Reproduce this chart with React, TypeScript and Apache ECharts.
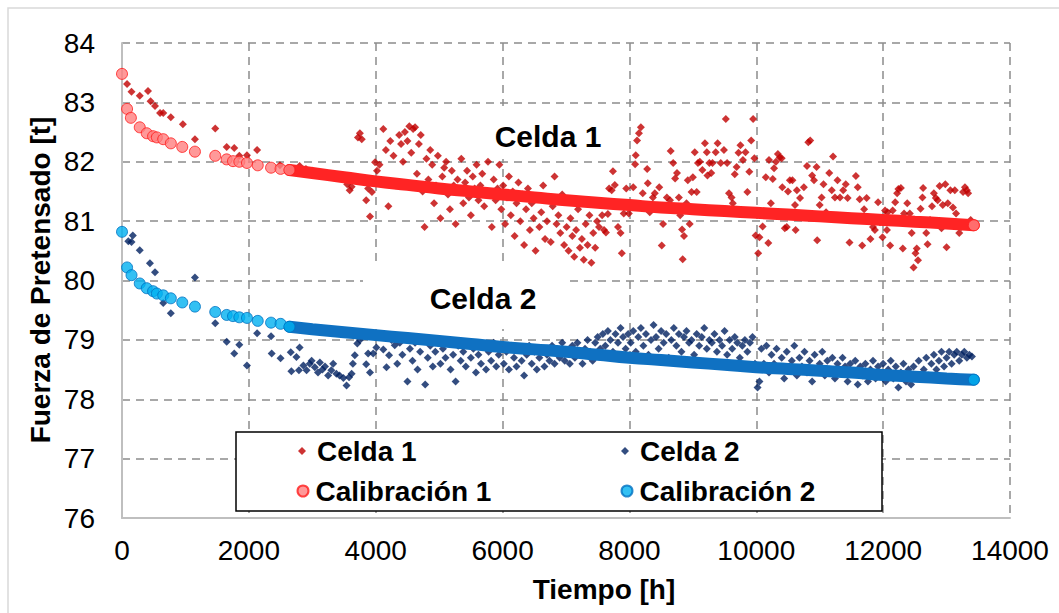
import React, { useEffect, useRef } from "react";
import * as echarts from "echarts";

// ---- Data ----
const xTicks = [0, 2000, 4000, 6000, 8000, 10000, 12000, 14000];
const yTicks = [76, 77, 78, 79, 80, 81, 82, 83, 84];

const celda1: [number, number][] = [
  [80, 83.31], [150, 83.18], [280, 83.11], [410, 83.19], [450, 83.02], [520, 82.94], [600, 82.82], [650, 82.82],
  [770, 82.75], [960, 82.63], [1150, 82.38], [1470, 82.56], [1650, 82.25], [1770, 82.23], [1850, 82.1], [1970, 82.11],
  [2130, 82.2], [2490, 81.94], [2800, 81.93], [2900, 81.88], [3000, 81.85], [3100, 81.8], [3200, 81.78], [3300, 81.76],
  [3400, 81.73], [3480, 81.74], [3550, 81.62], [3590, 81.52], [3620, 81.58], [3660, 81.7], [3720, 82.41], [3750, 82.48],
  [3780, 82.38], [3850, 81.35], [3880, 81.55], [3910, 81.08], [3940, 81.49], [3990, 81.99],
  [4020, 81.85], [4060, 81.95], [4120, 82.55], [4160, 82.2], [4200, 81.25], [4230, 82.35], [4280, 82.1], [4320, 81.6],
  [4370, 82.45], [4400, 82.3], [4430, 82.0], [4460, 82.5], [4500, 82.35], [4530, 82.6], [4560, 82.15], [4590, 82.55],
  [4620, 82.58], [4650, 81.8], [4680, 82.3], [4710, 82.45], [4740, 81.5], [4770, 80.9], [4800, 82.05], [4830, 81.7],
  [4860, 82.2], [4890, 81.95], [4920, 81.3], [4950, 81.6], [4980, 82.1],
  [5020, 81.05], [5050, 81.75], [5080, 81.9], [5110, 82.0], [5140, 81.45], [5170, 81.2], [5200, 81.85], [5230, 81.6],
  [5260, 80.95], [5290, 81.7], [5320, 81.5], [5350, 82.05], [5380, 81.3], [5410, 81.65], [5440, 81.85], [5470, 81.4],
  [5500, 81.1], [5530, 81.75], [5560, 81.55], [5590, 81.95], [5620, 81.35], [5650, 81.6], [5680, 81.8], [5710, 81.25],
  [5740, 81.5], [5770, 82.0], [5800, 81.45], [5830, 80.9], [5860, 81.7], [5890, 81.35], [5920, 81.55], [5950, 81.95],
  [5980, 81.2],
  [6010, 81.6], [6040, 80.95], [6070, 81.4], [6100, 81.75], [6130, 81.1], [6160, 81.5], [6190, 80.75], [6220, 81.3],
  [6250, 81.65], [6280, 81.0], [6310, 81.45], [6340, 80.6], [6370, 81.2], [6400, 81.55], [6430, 80.85], [6460, 81.3],
  [6490, 81.05], [6520, 80.5], [6550, 81.4], [6580, 80.9], [6610, 81.15], [6640, 81.6], [6670, 80.7], [6700, 81.0],
  [6730, 81.35], [6760, 80.65], [6790, 81.25], [6820, 81.75], [6850, 80.95], [6880, 81.1], [6910, 80.8], [6940, 81.45],
  [6970, 80.6],
  [7010, 80.9], [7040, 80.5], [7070, 81.05], [7100, 80.75], [7130, 80.4], [7160, 80.85], [7190, 81.2], [7220, 80.55],
  [7250, 80.7], [7280, 80.35], [7310, 80.95], [7340, 80.6], [7370, 81.1], [7400, 80.3], [7430, 80.8], [7460, 80.55],
  [7490, 81.0], [7520, 80.9], [7550, 81.3], [7570, 81.1], [7600, 80.85], [7630, 80.81], [7660, 81.12], [7680, 81.55],
  [7720, 81.52], [7740, 81.84], [7770, 81.61], [7820, 80.9], [7860, 80.8], [7880, 80.46], [7910, 81.13], [7950, 81.55],
  [7990, 81.13], [8060, 81.57], [8090, 81.96], [8100, 82.11], [8120, 82.36], [8150, 82.48], [8180, 82.58], [8210, 81.47],
  [8280, 81.88], [8290, 81.64], [8320, 81.15], [8370, 81.4], [8400, 81.47], [8470, 81.57], [8510, 80.59], [8530, 80.95],
  [8590, 81.4], [8640, 81.35], [8650, 82.18], [8690, 81.98], [8720, 81.72], [8750, 81.81], [8780, 81.4], [8800, 81.1],
  [8830, 80.86], [8840, 80.36], [8860, 80.75], [8900, 81.3], [8920, 81.69], [8950, 80.95], [8980, 81.49], [9000, 81.74],
  [9030, 82.16], [9060, 81.49], [9080, 81.98], [9110, 82.0], [9150, 81.86], [9190, 82.31], [9220, 82.16], [9230, 81.77],
  [9260, 81.98], [9290, 81.81], [9310, 81.98], [9360, 82.16], [9390, 82.31], [9440, 81.98], [9490, 82.2], [9520, 82.72],
  [9540, 81.98], [9570, 81.47], [9610, 81.4], [9630, 81.3], [9660, 81.79], [9690, 81.91], [9720, 82.15], [9750, 82.28],
  [9790, 82.03], [9830, 82.16], [9860, 81.49], [9890, 81.83], [9920, 82.36], [9950, 82.72], [9970, 82.06], [9990, 80.76],
  [10030, 80.46], [10050, 80.73], [10100, 80.91], [10150, 81.74], [10190, 80.63], [10200, 82.03], [10230, 81.3],
  [10260, 81.71], [10280, 81.89], [10310, 82.0], [10340, 82.13], [10370, 82.07], [10400, 82.06], [10410, 81.57],
  [10450, 80.88], [10480, 80.9], [10500, 81.5], [10530, 81.69], [10570, 81.69], [10610, 81.27], [10620, 80.85],
  [10640, 81.52], [10690, 81.39], [10750, 81.57], [10800, 81.93], [10820, 82.33], [10850, 82.36], [10880, 81.77],
  [10910, 81.69], [10950, 81.91], [10960, 80.68], [11000, 81.27], [11030, 81.4], [11060, 81.62], [11100, 81.15],
  [11150, 81.81], [11190, 81.52], [11210, 82.09], [11240, 81.4], [11280, 81.69], [11320, 81.4], [11370, 81.52],
  [11410, 81.62], [11440, 81.39], [11470, 80.64], [11510, 81.02], [11570, 81.76], [11600, 81.57], [11630, 81.37],
  [11670, 80.59], [11700, 81.2], [11740, 81.39], [11800, 80.7], [11840, 80.9], [11870, 80.85], [11920, 81.32],
  [11950, 80.98], [11990, 80.73], [12030, 81.18], [12060, 80.85], [12070, 81.15], [12110, 80.59], [12150, 81.18],
  [12190, 81.32], [12220, 81.47], [12240, 81.54], [12280, 81.56], [12310, 80.54], [12330, 81.13], [12380, 81.3],
  [12420, 81.13], [12450, 80.8], [12480, 80.22], [12510, 80.46], [12530, 80.54], [12550, 80.34], [12590, 81.21],
  [12620, 81.4], [12630, 81.56], [12680, 80.8], [12700, 80.61], [12740, 81.02], [12770, 81.25], [12800, 81.47],
  [12830, 81.39], [12860, 81.35], [12890, 81.59], [12920, 80.88], [12940, 81.27], [12980, 81.62], [13000, 80.56],
  [13020, 81.3], [13060, 81.52], [13100, 81.23], [13130, 81.52], [13150, 81.13], [13200, 80.8], [13230, 80.9],
  [13260, 81.49], [13290, 81.57], [13320, 81.52], [13340, 81.47], [13380, 81.02],
];

const celda2: [number, number][] = [
  [100, 80.66], [150, 80.65], [170, 80.76], [280, 80.51], [440, 80.29], [520, 80.14], [650, 79.62], [770, 79.45],
  [1150, 80.05], [1470, 79.28], [1650, 78.97], [1770, 78.77], [1850, 78.92], [1970, 78.57], [2130, 79.11], [2350, 79.06],
  [2360, 78.77], [2500, 78.69], [2660, 78.79], [2670, 78.47], [2750, 78.71], [2790, 78.49], [2800, 78.87], [2860, 78.57],
  [2910, 78.49], [2960, 78.6], [2990, 78.65], [3040, 78.54], [3090, 78.45], [3120, 78.62], [3160, 78.5], [3200, 78.55],
  [3250, 78.4], [3300, 78.49], [3330, 78.6], [3380, 78.43], [3430, 78.4], [3490, 78.36], [3540, 78.23], [3580, 78.37],
  [3620, 78.43], [3640, 78.6], [3670, 78.74], [3710, 78.94], [3750, 79.0], [3850, 78.59], [3880, 78.77], [3910, 78.45],
  [3960, 78.77], [4010, 78.87], [4120, 78.84], [4170, 78.54], [4210, 78.74], [4250, 79.0], [4300, 78.91],
  [4340, 78.6], [4380, 78.95], [4420, 78.75], [4460, 79.05], [4500, 78.3], [4540, 78.85], [4580, 78.65], [4620, 78.95],
  [4660, 78.5], [4700, 78.8], [4740, 79.0], [4780, 78.25], [4820, 78.7], [4860, 78.9], [4900, 78.55], [4940, 78.8],
  [4980, 78.95],
  [5020, 78.6], [5060, 78.85], [5100, 78.7], [5140, 78.95], [5180, 78.5], [5220, 78.75], [5260, 78.3], [5300, 78.9],
  [5340, 78.65], [5380, 78.8], [5420, 78.55], [5460, 78.95], [5500, 78.7], [5540, 78.85], [5580, 78.45], [5620, 78.75],
  [5660, 78.6], [5700, 78.9], [5740, 78.5], [5780, 78.8], [5820, 78.65], [5860, 78.95], [5900, 78.55], [5940, 78.75],
  [5980, 78.85],
  [6020, 78.6], [6060, 78.8], [6100, 78.5], [6140, 78.9], [6180, 78.7], [6220, 78.55], [6260, 78.85], [6300, 78.65],
  [6340, 78.4], [6380, 78.75], [6420, 78.9], [6460, 78.6], [6500, 78.8], [6540, 78.5], [6580, 78.7], [6620, 78.85],
  [6660, 78.55], [6700, 78.75], [6740, 78.65], [6780, 78.9], [6820, 78.6], [6860, 78.8], [6900, 78.7], [6940, 78.95],
  [6980, 78.65],
  [7020, 78.8], [7060, 78.6], [7100, 78.9], [7140, 78.7], [7180, 78.95], [7220, 78.75], [7260, 78.6], [7300, 78.85],
  [7340, 79.0], [7380, 78.8], [7420, 78.65], [7460, 78.95], [7500, 79.05], [7540, 78.85], [7580, 79.1], [7620, 78.9],
  [7660, 79.15], [7700, 79.0], [7740, 78.8], [7780, 79.1], [7820, 78.95], [7860, 79.2], [7900, 79.05], [7940, 78.85],
  [7980, 79.1],
  [8020, 78.95], [8060, 79.15], [8100, 78.8], [8140, 79.05], [8180, 79.2], [8220, 78.9], [8260, 79.1], [8300, 78.75],
  [8340, 79.0], [8380, 79.25], [8420, 79.05], [8460, 78.85], [8500, 79.15], [8540, 78.95], [8580, 79.1], [8620, 78.7],
  [8660, 79.0], [8700, 79.2], [8740, 78.9], [8780, 79.1], [8820, 78.8], [8860, 79.05], [8900, 79.15], [8940, 78.95],
  [8980, 79.0], [9020, 78.75], [9060, 79.1], [9100, 78.9], [9140, 79.05], [9180, 79.2], [9220, 78.85], [9260, 79.0],
  [9300, 78.95], [9340, 79.1], [9380, 78.8], [9420, 79.0], [9460, 78.9], [9500, 79.15], [9540, 78.75], [9580, 79.0],
  [9620, 78.85], [9660, 79.05], [9700, 78.95], [9740, 78.7], [9780, 78.9], [9820, 79.0], [9860, 78.8], [9900, 78.95],
  [9940, 79.05], [9980, 78.6],
  [10020, 78.2], [10050, 78.3], [10080, 78.85], [10120, 78.6], [10160, 78.9], [10200, 78.45], [10240, 78.75],
  [10280, 78.6], [10320, 78.85], [10360, 78.5], [10400, 78.7], [10440, 78.35], [10480, 78.8], [10520, 78.55],
  [10560, 78.65], [10600, 78.9], [10640, 78.4], [10680, 78.7], [10720, 78.55], [10760, 78.8], [10800, 78.45],
  [10840, 78.65], [10880, 78.3], [10920, 78.75], [10960, 78.5], [11000, 78.6], [11040, 78.8], [11080, 78.4],
  [11120, 78.65], [11160, 78.5], [11200, 78.7], [11240, 78.35], [11280, 78.6], [11320, 78.45], [11360, 78.7],
  [11400, 78.55], [11440, 78.3], [11480, 78.6], [11520, 78.45], [11560, 78.65], [11600, 78.25], [11640, 78.55],
  [11680, 78.4], [11720, 78.6], [11760, 78.3], [11800, 78.5], [11840, 78.65], [11880, 78.35], [11920, 78.55],
  [11960, 78.4],
  [12000, 78.6], [12040, 78.3], [12080, 78.5], [12120, 78.65], [12160, 78.35], [12200, 78.55], [12240, 78.2],
  [12280, 78.45], [12320, 78.6], [12360, 78.3], [12400, 78.5], [12440, 78.25], [12480, 78.55], [12520, 78.4],
  [12560, 78.65], [12600, 78.35], [12640, 78.5], [12680, 78.7], [12720, 78.4], [12760, 78.6], [12800, 78.75],
  [12840, 78.5], [12880, 78.65], [12920, 78.8], [12960, 78.55], [13000, 78.7], [13040, 78.8], [13080, 78.6],
  [13120, 78.75], [13160, 78.8], [13200, 78.65], [13240, 78.75], [13280, 78.8], [13320, 78.7], [13360, 78.75],
  [13400, 78.72],
];

// Calibration: individual early points + dense trend (drawn as the overlapping-marker band)
const calib1Points: [number, number][] = [
  [0, 83.48], [80, 82.89], [140, 82.74], [280, 82.58], [390, 82.48], [490, 82.43], [550, 82.41], [650, 82.38],
  [770, 82.31], [950, 82.25], [1150, 82.17], [1470, 82.1], [1650, 82.04], [1750, 82.01], [1850, 82.0], [1970, 81.98],
  [2140, 81.94], [2350, 81.9], [2500, 81.88], [2640, 81.86], [13430, 80.93],
];
const calib2Points: [number, number][] = [
  [0, 80.82], [80, 80.22], [150, 80.09], [280, 79.95], [390, 79.87], [490, 79.82], [550, 79.78], [650, 79.75],
  [770, 79.70], [950, 79.63], [1150, 79.56], [1470, 79.47], [1650, 79.42], [1750, 79.40], [1850, 79.38], [1970, 79.37],
  [2140, 79.32], [2350, 79.29], [2500, 79.27], [2640, 79.22], [13430, 78.33],
];
const trendHours = [2640, 3000, 3500, 4000, 4500, 5000, 5500, 6000, 6500, 7000, 7500, 8000, 8500, 9000, 9500, 10000, 10500, 11000, 11500, 12000, 12500, 13000, 13430];
const calib1Trend = [81.86, 81.81, 81.74, 81.67, 81.61, 81.55, 81.50, 81.45, 81.40, 81.35, 81.31, 81.27, 81.23, 81.20, 81.17, 81.14, 81.11, 81.08, 81.05, 81.02, 80.99, 80.96, 80.93];
const calib2Trend = [79.22, 79.18, 79.13, 79.08, 79.03, 78.98, 78.93, 78.88, 78.84, 78.80, 78.75, 78.70, 78.66, 78.62, 78.58, 78.54, 78.51, 78.48, 78.45, 78.41, 78.38, 78.35, 78.33];

const FONT = "'Liberation Sans', Arial, Helvetica, sans-serif";

export default function App() {
  const ref = useRef<HTMLDivElement>(null);

  useEffect(() => {
    if (!ref.current) return;
    const chart = echarts.init(ref.current, undefined, { renderer: "svg" });

    const legendText = (padLeft: number) => ({
      fontFamily: FONT,
      fontSize: 28,
      fontWeight: "bold" as const,
      color: "#000",
      width: 280,
      lineHeight: 32,
      padding: [0, 0, 0, padLeft],
    });

    const option: any = {
      animation: false,
      backgroundColor: "#ffffff",
      grid: { left: 122, right: 49, top: 43, bottom: 95, containLabel: false },
      xAxis: {
        type: "value",
        min: xTicks[0],
        max: xTicks[xTicks.length - 1],
        interval: 2000,
        axisLine: { show: true, onZero: false, lineStyle: { color: "#BFBFBF", width: 2 } },
        axisTick: { show: false },
        axisLabel: {
          fontFamily: FONT,
          fontSize: 28,
          color: "#000",
          margin: 18,
          formatter: (v: number) => String(v),
        },
        splitLine: { show: true, showMinLine: false, lineStyle: { color: "#8C8C8C", width: 1.5, type: [8, 6] } },
      },
      yAxis: {
        type: "value",
        min: yTicks[0],
        max: yTicks[yTicks.length - 1],
        interval: 1,
        axisLine: { show: true, onZero: false, lineStyle: { color: "#BFBFBF", width: 2 } },
        axisTick: { show: false },
        axisLabel: { fontFamily: FONT, fontSize: 28, color: "#000", margin: 27, formatter: (v: number) => String(v) },
        splitLine: { show: true, showMinLine: false, lineStyle: { color: "#8C8C8C", width: 1.5, type: [8, 6] } },
      },
      legend: [
        {
          data: [
            { name: "Celda 1", icon: "diamond" },
            { name: "Celda 2", icon: "diamond" },
          ],
          orient: "horizontal",
          left: 298,
          top: 435,
          padding: 0,
          itemWidth: 8,
          itemHeight: 8,
          itemGap: 24,
          textStyle: legendText(6),
          selectedMode: false,
          z: 5,
        },
        {
          data: [
            { name: "Calibración 1", icon: "circle" },
            { name: "Calibración 2", icon: "circle" },
          ],
          orient: "horizontal",
          left: 296.5,
          top: 475,
          padding: 0,
          itemWidth: 11,
          itemHeight: 11,
          itemGap: 25,
          textStyle: legendText(2),
          selectedMode: false,
          z: 5,
        },
      ],
      series: [
        {
          name: "Calibración 1 tendencia",
          type: "line",
          data: trendHours.map((h, i) => [h, calib1Trend[i]]),
          smooth: true,
          showSymbol: false,
          lineStyle: { color: "#FF2424", width: 12, cap: "round" },
          z: 3,
          silent: true,
        },
        {
          name: "Calibración 2 tendencia",
          type: "line",
          data: trendHours.map((h, i) => [h, calib2Trend[i]]),
          smooth: true,
          showSymbol: false,
          lineStyle: { color: "#0F71C2", width: 12, cap: "round" },
          z: 3,
          silent: true,
        },
        {
          name: "Celda 1",
          type: "scatter",
          data: celda1,
          symbol: "diamond",
          symbolSize: 8,
          itemStyle: { color: "#C00000" },
          z: 2,
        },
        {
          name: "Celda 2",
          type: "scatter",
          data: celda2,
          symbol: "diamond",
          symbolSize: 8,
          itemStyle: { color: "#002060" },
          z: 2,
        },
        {
          name: "Calibración 1",
          type: "scatter",
          data: calib1Points,
          symbol: "circle",
          symbolSize: 11,
          itemStyle: { color: "#FF8080", borderColor: "#FF1A1A", borderWidth: 1 },
          z: 4,
        },
        {
          name: "Calibración 2",
          type: "scatter",
          data: calib2Points,
          symbol: "circle",
          symbolSize: 11,
          itemStyle: { color: "#00B0F0", borderColor: "#0070C0", borderWidth: 1 },
          z: 4,
        },
      ],
      graphic: {
        elements: [
          {
            type: "rect",
            z: -1,
            silent: true,
            shape: { x: 8, y: 8, width: 1200, height: 800 },
            style: { fill: "none", stroke: "#D9D9D9", lineWidth: 1.5 },
          },
          {
            type: "rect",
            z: 1,
            silent: true,
            shape: { x: 470, y: 106, width: 152, height: 53 },
            style: { fill: "#ffffff" },
          },
          {
            type: "text",
            z: 1,
            x: 548,
            y: 136,
            style: {
              text: "Celda 1",
              fontFamily: FONT,
              fontSize: 30,
              fontWeight: "bold",
              fill: "#000",
              align: "center",
              verticalAlign: "middle",
            },
          },
          {
            type: "rect",
            z: 1,
            silent: true,
            shape: { x: 363, y: 264, width: 205, height: 65 },
            style: { fill: "#ffffff" },
          },
          {
            type: "text",
            z: 1,
            x: 483,
            y: 298,
            style: {
              text: "Celda 2",
              fontFamily: FONT,
              fontSize: 30,
              fontWeight: "bold",
              fill: "#000",
              align: "center",
              verticalAlign: "middle",
            },
          },
          {
            type: "rect",
            z: 4,
            silent: true,
            shape: { x: 236, y: 432, width: 646, height: 79 },
            style: { fill: "#ffffff", stroke: "#000000", lineWidth: 1.5 },
          },
          {
            type: "text",
            z: 5,
            x: 604,
            y: 589,
            style: {
              text: "Tiempo [h]",
              fontFamily: FONT,
              fontSize: 28,
              fontWeight: "bold",
              fill: "#000",
              align: "center",
              verticalAlign: "middle",
            },
          },
          {
            type: "text",
            z: 5,
            x: 40,
            y: 280,
            rotation: Math.PI / 2,
            style: {
              text: "Fuerza de Pretensado [t]",
              fontFamily: FONT,
              fontSize: 28,
              fontWeight: "bold",
              fill: "#000",
              align: "center",
              verticalAlign: "middle",
            },
          },
        ],
      },
    };

    chart.setOption(option);
    return () => chart.dispose();
  }, []);

  return (
    <div
      ref={ref}
      style={{ position: "fixed", left: 0, top: 0, width: 1059, height: 613, background: "#fff" }}
    />
  );
}
